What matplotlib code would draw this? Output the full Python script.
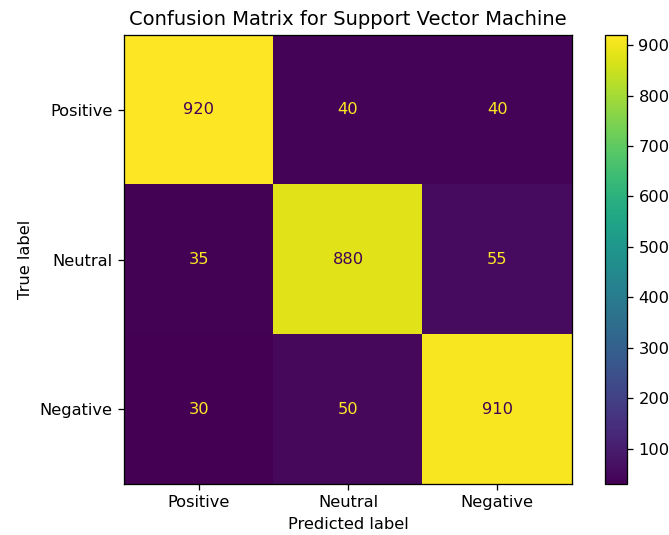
import matplotlib
matplotlib.use("Agg")
import matplotlib.pyplot as plt
import numpy as np

labels = ["Positive", "Neutral", "Negative"]
cm = np.array([[920, 40, 40],
               [35, 880, 55],
               [30, 50, 910]])

DPI = 117
fig = plt.figure(figsize=(669/DPI, 535/DPI), dpi=DPI)
ax = fig.add_axes([124/669, 1-484/535, (572-124)/669, (484-35)/535])
cax = fig.add_axes([605/669, 1-484/535, (627-605)/669, (484-35)/535])

cmap = plt.get_cmap("viridis")
im = ax.imshow(cm, cmap=cmap, interpolation="nearest", aspect="auto")
cmin, cmax = cm.min(), cm.max()
thresh = (cmax + cmin) / 2.0
for i in range(3):
    for j in range(3):
        color = cmap(0) if cm[i, j] > thresh else cmap(256)
        ax.text(j, i, str(cm[i, j]), ha="center", va="center", color=color, fontsize=10)

fig.colorbar(im, cax=cax)
ax.set_xticks(range(3))
ax.set_xticklabels(labels)
ax.set_yticks(range(3))
ax.set_yticklabels(labels)
ax.set_xlabel("Predicted label")
ax.set_ylabel("True label")
ax.set_title("Confusion Matrix for Support Vector Machine", fontsize=12)

fig.savefig("out.png", dpi=DPI)
